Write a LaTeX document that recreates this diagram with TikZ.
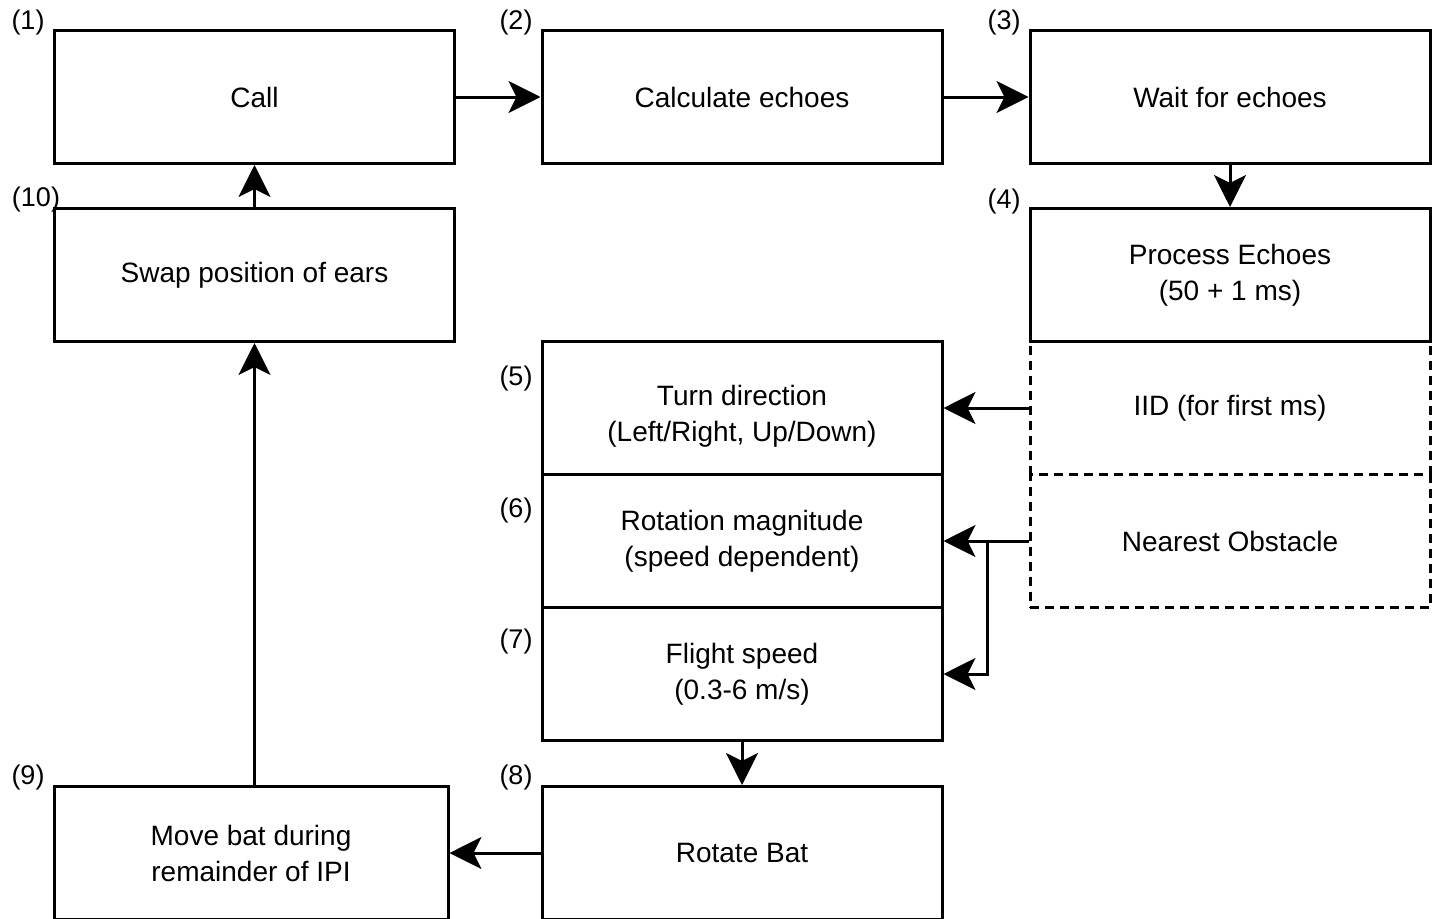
\documentclass[tikz,border=0pt]{standalone}
\usepackage{fontspec}
\setmainfont{Liberation Sans}
\usetikzlibrary{arrows.meta}
\begin{document}
\begin{tikzpicture}[x=1pt,y=-1pt,
  box/.style={draw, line width=3pt, minimum width=400pt, minimum height=133pt,
    inner sep=0pt, align=center, font=\fontsize{28}{36}\selectfont},
  txt/.style={inner sep=0pt, align=center, font=\fontsize{28}{36}\selectfont},
  dashln/.style={line width=3pt, dash pattern=on 9pt off 6pt},
  dbox/.style={box, dash pattern=on 9pt off 6pt},
  num/.style={inner sep=0pt, font=\fontsize{27}{30}\selectfont},
  arr/.style={line width=3pt, -{Stealth[length=32pt,width=32pt,inset=8pt]}}]
\useasboundingbox (0,0) rectangle (1437,918);
\fill[white] (0,0) rectangle (1437,918);
% dashed boxes first
\node[dbox] (nob) at (1230,541) {Nearest Obstacle};
\node[box, draw=none, outer sep=0pt] (iid) at (1230,408) {IID (for first ms)};
\draw[dashln] (iid.south west) -- (iid.north west);
\draw[dashln] (iid.south east) -- (iid.north east);
% solid boxes
\node[box] (n1) at (254.5,97) {Call};
\node[box] (n2) at (742,97) {Calculate echoes};
\node[box] (n3) at (1230,97) {Wait for echoes};
\node[box] (n10) at (254.5,275) {Swap position of ears};
\node[box] (n4) at (1230,275) {Process Echoes\\(50 + 1 ms)};
\node[box] (n5) at (742,408) {};
\node[txt] (t5) at ([yshift=-8pt]n5.center) {Turn direction\\(Left/Right, Up/Down)};
\node[box] (n6) at (742,541) {Rotation magnitude\\(speed dependent)};
\node[box] (n7) at (742,674) {Flight speed\\(0.3-6 m/s)};
\node[box] (n8) at (742,853) {Rotate Bat};
\node[box, minimum width=394pt] (n9) at (251,853) {Move bat during\\remainder of IPI};
% labels
\node[num] (l1) at (28,23) {(1)};
\node[num] (l2) at (516,23) {(2)};
\node[num] (l3) at (1004,23) {(3)};
\node[num] (l10) at (36,200) {(10)};
\node[num] (l4) at (1004,202) {(4)};
\node[num] (l5) at (516,379) {(5)};
\node[num] (l6) at (516,511) {(6)};
\node[num] (l7) at (516,642) {(7)};
\node[num] (l8) at (516,778) {(8)};
\node[num] (l9) at (28,778) {(9)};
% connectors
\draw[arr] (n1) -- (n2);
\draw[arr] (n2) -- (n3);
\draw[arr] (n3) -- (n4);
\draw[arr] (n10) -- (n1);
\draw[arr] (n9.north -| n10.south) -- (n10.south);
\draw[arr] (n8) -- (n9);
\draw[arr] (n7) -- (n8);
\draw[arr] (iid) -- (n5);
\draw[arr] (nob) -- (n6);
\coordinate (br) at (987,541);
\coordinate (bk) at (987,674);
\draw[arr] (br) -- (bk) -- (bk -| n7.east);
\end{tikzpicture}
\end{document}
